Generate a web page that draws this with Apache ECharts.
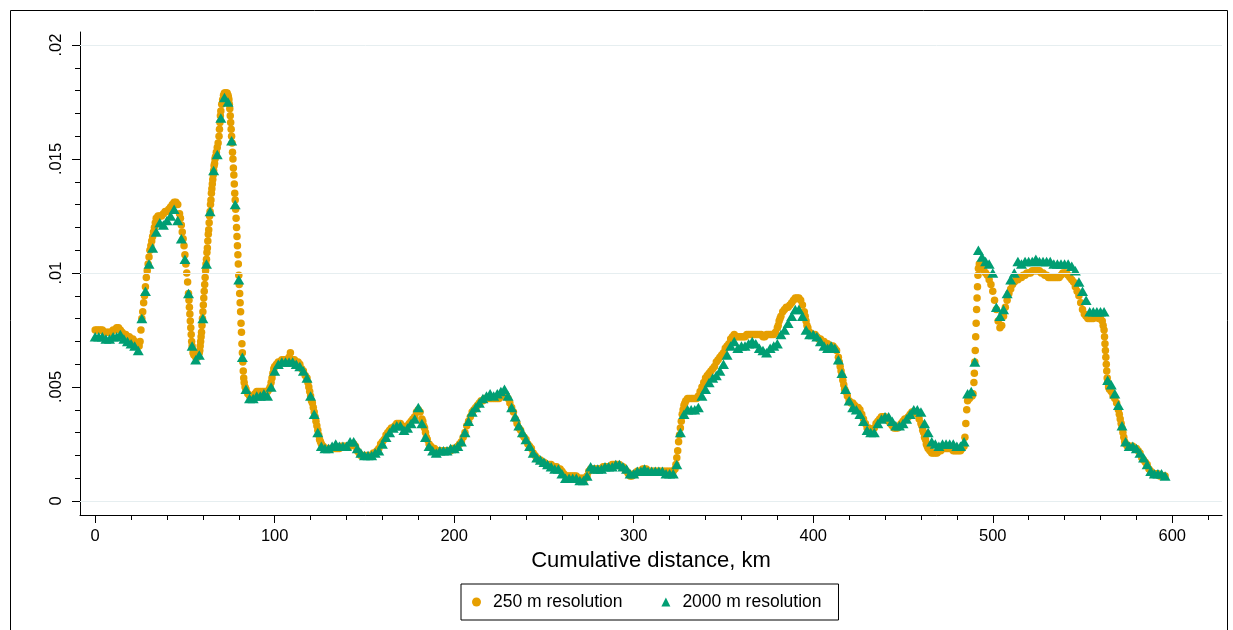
<!DOCTYPE html>
<html>
<head>
<meta charset="utf-8">
<script src="https://cdn.jsdelivr.net/npm/echarts@6/dist/echarts.min.js"></script>
<style>
  html, body { margin: 0; padding: 0; background: #fff; }
  #chart { width: 1233px; height: 630px; }
</style>
</head>
<body>
<div id="chart"></div>
<script>
// Share along the route, 250 m grid: [cumulative km, value]
const res250 = [
  [0,.0075],[1,.0075],[2,.0075],[3,.0075],[4,.0075],[5,.0074],[6,.0074],[7,.0074],[8,.0074],[9,.0074],
  [10,.0075],[11,.0075],[12,.0076],[13,.0076],[14,.0075],[15,.0074],[16,.0073],[17,.0073],[18,.0072],[19,.0072],
  [20,.0071],[21,.0071],[22,.0070],[23,.0069],[24,.0068],[24.5,.0068],
  [25,.0070],[25.5,.0075],[26,.0080],[26.5,.0083],[27,.0087],[27.5,.0090],[28,.0094],[28.5,.0098],[29,.0101],[29.5,.0104],
  [30,.0107],[30.5,.0110],[31,.0112],[31.5,.0114],[32,.0116],[32.5,.0118],[33,.0120],[33.5,.0122],[34,.0124],
  [35,.0125],[36,.0125],[37,.0125],[38,.0126],[39,.0127],[40,.0127],[41,.0128],[42,.0129],[43,.0130],[44,.0131],
  [45,.0131],[46,.0130],[47,.0126],[47.5,.0124],[48,.0121],[48.5,.0118],[49,.0115],[49.5,.0112],[50,.0108],[50.5,.0104],
  [51,.0100],[51.5,.0096],[52,.0091],[52.25,.0088],[52.5,.0085],[52.75,.0082],[53,.0079],[53.25,.0076],[53.5,.0073],[53.75,.0070],
  [54,.0068],[54.5,.0065],[55,.0064],[56,.0063],[57,.0063],[57.5,.0064],
  [58,.0065],[58.25,.0066],[58.5,.0068],[58.75,.0070],[59,.0072],[59.25,.0074],[59.5,.0077],[59.75,.0080],
  [60,.0083],[60.25,.0086],[60.5,.0089],[60.75,.0092],[61,.0095],[61.25,.0098],[61.5,.0101],[61.75,.0104],
  [62,.0106],[62.25,.0109],[62.5,.0111],[62.75,.0114],[63,.0117],[63.25,.0119],[63.5,.0122],[63.75,.0125],
  [64,.0127],[64.25,.0130],[64.5,.0132],[64.75,.0135],[65,.0137],[65.25,.0139],[65.5,.0141],[65.75,.0143],
  [66,.0145],[66.25,.0147],[66.5,.0148],[66.75,.0150],[67,.0151],[67.5,.0153],[68,.0155],[68.5,.0157],
  [69,.0160],[69.25,.0163],[69.5,.0166],[69.75,.0169],[70,.0171],[70.5,.0174],[71,.0176],[71.5,.0178],
  [72,.0179],[72.5,.0179],[73,.0179],[73.5,.0179],[74,.0178],[74.25,.0177],[74.5,.0176],[74.75,.0174],
  [75,.0172],[75.25,.0169],[75.5,.0166],[75.75,.0163],[76,.0160],[76.25,.0157],[76.5,.0153],[76.75,.0150],
  [77,.0146],[77.25,.0143],[77.5,.0139],[77.75,.0135],[78,.0132],[78.25,.0128],[78.5,.0124],[78.75,.0120],
  [79,.0116],[79.25,.0112],[79.5,.0108],[79.75,.0104],[80,.0099],[80.25,.0095],[80.5,.0091],[80.75,.0087],
  [81,.0083],[81.25,.0078],[81.5,.0074],[81.75,.0069],[82,.0065],[82.25,.0061],[82.5,.0057],[82.75,.0054],
  [83,.0052],[83.5,.0050],[84,.0049],[85,.0047],[86,.0046],[87,.0046],[88,.0046],[89,.0047],
  [90,.0048],[91,.0048],[92,.0048],[93,.0048],[94,.0048],[95,.0048],[96,.0048],[97,.0049],[97.5,.0050],
  [98,.0052],[98.5,.0054],[99,.0056],[99.5,.0058],[100,.0059],[101,.0060],[102,.0061],[103,.0061],[104,.0062],
  [105,.0062],[106,.0062],[107,.0062],[108,.0063],[108.75,.0065],[109.5,.0062],[110,.0062],[111,.0062],[112,.0061],
  [113,.0061],[114,.0060],[115,.0058],[116,.0057],[117,.0055],[118,.0054],[118.5,.0052],[119,.0050],[119.5,.0048],
  [120,.0046],[120.5,.0044],[121,.0043],[121.5,.0041],[122,.0039],[122.5,.0037],[123,.0035],[123.5,.0033],
  [124,.0031],[124.5,.0029],[125,.0027],[125.5,.0026],[126,.0025],[127,.0024],[128,.0023],[129,.0023],
  [130,.0023],[131,.0023],[132,.0023],[133,.0023],[134,.0023],[135,.0023],[136,.0023],[137,.0024],[138,.0024],[139,.0024],
  [140,.0024],[141,.0024],[142,.0024],[143,.0025],[144,.0025],[145,.0024],[146,.0022],[147,.0021],[148,.0020],[149,.0020],
  [150,.0020],[151,.0020],[152,.0020],[153,.0020],[154,.0020],[155,.0021],[156,.0021],[157,.0022],[158,.0023],[159,.0025],
  [160,.0026],[161,.0027],[162,.0029],[163,.0030],[164,.0031],[165,.0032],[166,.0032],[167,.0033],[168,.0034],[169,.0034],
  [170,.0034],[171,.0033],[172,.0032],[173,.0032],[174,.0033],[175,.0034],[176,.0035],[177,.0036],[178,.0037],[179,.0039],
  [180,.0040],[181,.0039],[182,.0036],[182.5,.0035],[183,.0033],[183.5,.0032],[184,.0030],[184.5,.0028],[185,.0027],
  [186,.0025],[187,.0024],[188,.0023],[189,.0023],
  [190,.0022],[191,.0022],[192,.0022],[193,.0022],[194,.0022],[195,.0022],[196,.0022],[197,.0022],[198,.0022],[199,.0023],
  [200,.0023],[201,.0023],[202,.0024],[203,.0025],[204,.0026],[205,.0028],[206,.0030],[207,.0033],[208,.0035],[209,.0037],
  [210,.0039],[211,.0040],[212,.0041],[213,.0042],[214,.0043],[215,.0044],[216,.0044],[217,.0045],[218,.0045],[219,.0045],
  [220,.0045],[221,.0045],[222,.0045],[223,.0045],[224,.0045],[225,.0045],[226,.0046],[227,.0046],[228,.0046],[229,.0046],
  [230,.0045],[231,.0043],[232,.0041],[233,.0039],[234,.0036],[235,.0034],[236,.0032],[237,.0031],[238,.0029],[239,.0028],
  [240,.0027],[241,.0025],[242,.0024],[243,.0023],[244,.0021],[245,.0020],[246,.0019],[247,.0018],[248,.0018],[249,.0017],
  [250,.0017],[251,.0016],[252,.0016],[253,.0016],[254,.0016],[255,.0015],[256,.0015],[257,.0015],[258,.0014],[259,.0014],
  [260,.0013],[261,.0012],[262,.0011],[263,.0011],[264,.0011],[265,.0011],[266,.0011],[267,.0011],[268,.0011],[269,.0010],
  [270,.0010],[271,.0010],[272,.0010],[273,.0010],[274,.0011],[275,.0013],[276,.0014],[277,.0014],[278,.0014],[279,.0014],
  [280,.0014],[281,.0014],[282,.0014],[283,.0015],[284,.0015],[285,.0015],[286,.0015],[287,.0015],[288,.0016],[289,.0016],
  [290,.0016],[291,.0016],[292,.0016],[293,.0015],[294,.0015],[295,.0014],[296,.0013],[297,.0012],[298,.0011],[299,.0011],
  [300,.0012],[301,.0012],[302,.0013],[303,.0013],[304,.0013],[305,.0014],[306,.0014],[307,.0014],[308,.0013],[309,.0013],
  [310,.0013],[311,.0013],[312,.0013],[313,.0013],[314,.0013],[315,.0013],[316,.0013],[317,.0013],[318,.0013],[319,.0013],
  [320,.0013],[321,.0013],[322,.0013],[323,.0014],[323.5,.0016],[324,.0019],[324.5,.0022],[325,.0026],[325.5,.0029],
  [326,.0032],[326.5,.0035],[327,.0038],[327.5,.0040],[328,.0042],[328.5,.0043],[329,.0044],
  [330,.0045],[331,.0045],[332,.0045],[333,.0045],[334,.0045],[335,.0045],[336,.0046],[337,.0048],[338,.0050],[339,.0052],
  [340,.0054],[341,.0055],[342,.0056],[343,.0057],[344,.0058],[345,.0059],[346,.0061],[347,.0062],[348,.0063],[349,.0064],
  [350,.0065],[351,.0067],[352,.0068],[353,.0069],[354,.0071],[355,.0072],[356,.0073],[357,.0072],[358,.0072],[359,.0072],
  [360,.0072],[361,.0072],[362,.0072],[363,.0073],[364,.0073],[365,.0073],[366,.0073],[367,.0073],[368,.0073],[369,.0073],
  [370,.0073],[371,.0073],[372,.0072],[373,.0072],[374,.0073],[375,.0073],[376,.0073],[377,.0073],[378,.0073],[379,.0074],
  [380,.0076],[380.5,.0077],[381,.0079],[381.5,.0080],[382,.0081],[383,.0083],[384,.0084],[385,.0085],[386,.0085],[387,.0086],
  [388,.0087],[389,.0088],[390,.0089],[391,.0089],[392,.0089],[393,.0088],[394,.0086],[395,.0083],[395.5,.0081],[396,.0079],
  [396.5,.0077],[397,.0076],[398,.0074],[399,.0073],
  [400,.0073],[401,.0073],[402,.0072],[403,.0071],[404,.0071],[405,.0070],[406,.0070],[407,.0069],[408,.0069],[409,.0068],
  [410,.0068],[411,.0068],[412,.0067],[413,.0066],[414,.0063],[414.5,.0061],[415,.0059],[415.5,.0057],[416,.0055],[416.5,.0053],
  [417,.0051],[417.5,.0049],[418,.0048],[419,.0046],
  [420,.0044],[421,.0043],[422,.0043],[423,.0042],[424,.0041],[425,.0041],[426,.0040],[427,.0038],[428,.0036],[429,.0034],
  [430,.0032],[431,.0032],[432,.0031],[433,.0031],[434,.0032],[435,.0034],[436,.0035],[437,.0036],[438,.0037],[439,.0037],
  [440,.0037],[441,.0036],[442,.0035],[443,.0034],[444,.0033],[445,.0032],[446,.0032],[447,.0032],[448,.0033],[449,.0034],
  [450,.0035],[451,.0036],[452,.0036],[453,.0037],[454,.0038],[455,.0039],[456,.0039],[457,.0039],[458,.0038],[459,.0036],
  [460,.0034],[460.5,.0033],[461,.0031],[461.5,.0030],[462,.0028],[462.5,.0027],[463,.0025],[463.5,.0024],[464,.0023],
  [465,.0022],[466,.0021],[467,.0021],[468,.0021],[469,.0021],
  [470,.0022],[471,.0022],[472,.0023],[473,.0023],[474,.0023],[475,.0023],[476,.0023],[477,.0023],[478,.0022],[479,.0022],
  [480,.0022],[481,.0022],[482,.0022],[483,.0023],[484,.0024],[484.5,.0028],[485,.0034],[485.5,.0040],[486,.0044],
  [487,.0045],[488,.0046],[488.5,.0046],[489,.0047],[489.5,.0052],[489.75,.0056],
  [490,.0061],[490.25,.0066],[490.5,.0072],[490.75,.0078],[491,.0084],[491.25,.0089],[491.5,.0094],[491.75,.0099],
  [492,.0102],[492.5,.0104],[493,.0104],[494,.0103],[495,.0101],[496,.0100],[497,.0099],[498,.0097],[499,.0095],
  [500,.0092],[501,.0088],[502,.0084],[503,.0079],[504,.0076],[505,.0077],[506,.0081],[507,.0085],[508,.0088],[509,.0091],
  [510,.0093],[511,.0095],[512,.0096],[513,.0097],[514,.0097],[515,.0098],[516,.0098],[517,.0099],[518,.0099],[519,.0100],
  [520,.0100],[521,.0100],[522,.0101],[523,.0101],[524,.0101],[525,.0101],[526,.0101],[527,.0100],[528,.0100],[529,.0099],
  [530,.0099],[531,.0098],[532,.0098],[533,.0098],[534,.0098],[535,.0098],[536,.0098],[537,.0098],[538,.0099],[539,.0100],
  [540,.0100],[541,.0100],[542,.0099],[543,.0098],[544,.0097],[545,.0096],[546,.0094],[547,.0092],[548,.0090],[549,.0087],
  [550,.0084],[551,.0082],[552,.0081],[553,.0080],[554,.0080],[555,.0080],[556,.0080],[557,.0081],[558,.0081],[559,.0080],
  [560,.0080],[561,.0079],[561.5,.0077],[562,.0075],[562.25,.0072],[562.5,.0069],[562.75,.0066],[563,.0063],[563.25,.0060],
  [563.5,.0057],[563.75,.0054],[564,.0052],[564.5,.0050],[565,.0049],[566,.0048],[567,.0046],[568,.0045],[569,.0043],
  [570,.0040],[570.5,.0038],[571,.0036],[571.5,.0034],[572,.0032],[572.5,.0030],[573,.0028],[573.5,.0026],[574,.0025],
  [575,.0024],[576,.0024],[577,.0024],[578,.0024],[579,.0023],
  [580,.0023],[581,.0022],[582,.0021],[583,.0019],[584,.0018],[585,.0017],[586,.0016],[587,.0014],[588,.0013],[589,.0012],
  [590,.0012],[591,.0012],[592,.0012],[593,.0011],[594,.0011],[595,.0011],[596,.0011]
];

// Same route, 2000 m grid: [cumulative km, value]
const res2000 = [
  [0,.0072],[2,.0072],[4,.0072],[6,.0071],[8,.0071],[10,.0072],[12,.0072],[14,.0073],[16,.0071],[18,.0070],
  [20,.0069],[22,.0068],[24,.0066],[26,.0080],[28,.0092],[30,.0104],[32,.0111],[34,.0118],[36,.0122],[38,.0121],
  [40,.0123],[42,.0125],[44,.0128],[46,.0123],[48,.0115],[50,.0106],[52,.0091],[54,.0068],[56,.0062],[58,.0064],
  [60,.0080],[62,.0104],[64,.0127],[66,.0145],[68,.0152],[70,.0168],[72,.0177],[74,.0175],[76,.0158],[78,.0130],
  [80,.0097],[82,.0063],[84,.0049],[86,.0045],[88,.0045],[90,.0046],[92,.0046],[94,.0047],[96,.0046],[98,.0050],
  [100,.0057],[102,.0060],[104,.0061],[106,.0061],[108,.0061],[110,.0061],[112,.0060],[114,.0059],[116,.0057],[118,.0054],
  [120,.0046],[122,.0038],[124,.0030],[126,.0024],[128,.0023],[130,.0023],[132,.0024],[134,.0025],[136,.0024],[138,.0024],
  [140,.0024],[142,.0026],[144,.0026],[146,.0023],[148,.0021],[150,.0020],[152,.0020],[154,.0020],[156,.0021],[158,.0022],
  [160,.0025],[162,.0028],[164,.0030],[166,.0032],[168,.0033],[170,.0033],[172,.0031],[174,.0032],[176,.0034],[178,.0036],
  [180,.0041],[182,.0034],[184,.0028],[186,.0024],[188,.0022],[190,.0021],[192,.0022],[194,.0022],[196,.0022],[198,.0023],
  [200,.0023],[202,.0024],[204,.0026],[206,.0030],[208,.0035],[210,.0039],[212,.0041],[214,.0043],[216,.0045],[218,.0046],
  [220,.0047],[222,.0046],[224,.0047],[226,.0048],[228,.0049],[230,.0046],[232,.0041],[234,.0037],[236,.0033],[238,.0030],
  [240,.0027],[242,.0024],[244,.0021],[246,.0019],[248,.0018],[250,.0017],[252,.0016],[254,.0015],[256,.0014],[258,.0014],
  [260,.0012],[262,.0010],[264,.0010],[266,.0010],[268,.0010],[270,.0009],[272,.0009],[274,.0011],[276,.0015],[278,.0014],
  [280,.0014],[282,.0014],[284,.0015],[286,.0015],[288,.0015],[290,.0016],[292,.0016],[294,.0015],[296,.0014],[298,.0012],
  [300,.0012],[302,.0013],[304,.0013],[306,.0014],[308,.0013],[310,.0013],[312,.0013],[314,.0013],[316,.0013],[318,.0012],
  [320,.0012],[322,.0012],[324,.0016],[326,.0030],[328,.0038],[330,.0040],[332,.0040],[334,.0040],[336,.0041],[338,.0046],
  [340,.0049],[342,.0052],[344,.0054],[346,.0055],[348,.0057],[350,.0060],[352,.0064],[354,.0068],[356,.0070],[358,.0067],
  [360,.0068],[362,.0068],[364,.0069],[366,.0070],[368,.0069],[370,.0067],[372,.0066],[374,.0065],[376,.0067],[378,.0068],
  [380,.0069],[382,.0073],[384,.0075],[386,.0078],[388,.0081],[390,.0084],[392,.0084],[394,.0081],[396,.0075],[398,.0073],
  [400,.0073],[402,.0072],[404,.0070],[406,.0068],[408,.0067],[410,.0068],[412,.0067],[414,.0062],[416,.0056],[418,.0049],
  [420,.0044],[422,.0041],[424,.0040],[426,.0038],[428,.0035],[430,.0031],[432,.0030],[434,.0030],[436,.0034],[438,.0036],
  [440,.0037],[442,.0037],[444,.0035],[446,.0033],[448,.0033],[450,.0034],[452,.0036],[454,.0038],[456,.0040],[458,.0040],
  [460,.0039],[462,.0034],[464,.0030],[466,.0026],[468,.0025],[470,.0024],[472,.0025],[474,.0025],[476,.0025],[478,.0025],
  [480,.0024],[482,.0024],[484,.0026],[486,.0047],[488,.0048],[490,.0061],[492,.0110],[494,.0107],[496,.0105],[498,.0104],
  [500,.0100],[502,.0085],[504,.0081],[506,.0084],[508,.0091],[510,.0097],[512,.0100],[514,.0105],[516,.0104],[518,.0105],
  [520,.0105],[522,.0105],[524,.0106],[526,.0105],[528,.0105],[530,.0105],[532,.0105],[534,.0104],[536,.0104],[538,.0104],
  [540,.0104],[542,.0104],[544,.0103],[546,.0101],[548,.0096],[550,.0092],[552,.0088],[554,.0083],[556,.0083],[558,.0083],
  [560,.0083],[562,.0083],[564,.0053],[566,.0051],[568,.0047],[570,.0042],[572,.0033],[574,.0026],[576,.0024],[578,.0024],
  [580,.0023],[582,.0021],[584,.0019],[586,.0016],[588,.0013],[590,.0012],[592,.0012],[594,.0012],[596,.0011]
];

const seriesNames = ['250 m resolution', '2000 m resolution'];
const xMajorTicks = [0, 100, 200, 300, 400, 500, 600];
const xMinorTicks = [0, 20, 40, 60, 80, 100, 120, 140, 160, 180, 200, 220, 240, 260, 280, 300,
                     320, 340, 360, 380, 400, 420, 440, 460, 480, 500, 520, 540, 560, 580, 600, 620];
const yMajorTicks = [0, 0.005, 0.01, 0.015, 0.02];
const yMinorTicks = [0, 0.001, 0.002, 0.003, 0.004, 0.005, 0.006, 0.007, 0.008, 0.009, 0.01,
                     0.011, 0.012, 0.013, 0.014, 0.015, 0.016, 0.017, 0.018, 0.019, 0.02];
const xTitle = 'Cumulative distance, km';

const FONT = '"Liberation Sans", Arial, Helvetica, sans-serif';
const ORANGE = '#E69F00';
const GREEN = '#009E73';

// axis extents: the axis lines run a little past the data on both ends
const X_MIN = -8.45, X_MAX = 627.7;
const Y_MIN = -0.000614, Y_MAX = 0.02057;

const chart = echarts.init(document.getElementById('chart'), null, { renderer: 'canvas' });

const fmtY = v => (v === 0 ? '0' : String(v).replace(/^0\./, '.'));

const baseX = {
  type: 'value', min: X_MIN, max: X_MAX, position: 'bottom',
  splitLine: { show: false }, minorTick: { show: false }, minorSplitLine: { show: false }
};
const baseY = {
  type: 'value', min: Y_MIN, max: Y_MAX, position: 'left',
  splitLine: { show: false }, minorTick: { show: false }, minorSplitLine: { show: false }
};

chart.setOption({
  animation: false,
  backgroundColor: '#ffffff',
  textStyle: { fontFamily: FONT },
  graphic: [{
    type: 'rect', silent: true, z: 0,
    shape: { x: 10.5, y: 10.5, width: 1217, height: 700 },
    style: { fill: 'none', stroke: '#000', lineWidth: 1 }
  }],
  grid: { left: 80, right: 11, top: 32, bottom: 115, containLabel: false, outerBoundsMode: 'none' },
  xAxis: [
    Object.assign({}, baseX, {
      axisLine: { show: true, onZero: false, lineStyle: { color: '#000', width: 1 } },
      axisTick: { show: true, customValues: xMajorTicks, length: 8, lineStyle: { color: '#000', width: 1 } },
      axisLabel: { show: true, customValues: xMajorTicks, margin: 13, color: '#000', fontSize: 16.5, fontFamily: FONT },
      name: xTitle, nameLocation: 'middle', nameGap: 32,
      nameTextStyle: { color: '#000', fontSize: 22, fontFamily: FONT }
    }),
    Object.assign({}, baseX, {
      axisLine: { show: false, onZero: false },
      axisTick: { show: true, customValues: xMinorTicks, length: 5, lineStyle: { color: '#000', width: 1 } },
      axisLabel: { show: false }
    })
  ],
  yAxis: [
    Object.assign({}, baseY, {
      axisLine: { show: true, onZero: false, lineStyle: { color: '#000', width: 1 } },
      axisTick: { show: true, customValues: yMajorTicks, length: 8, lineStyle: { color: '#000', width: 1 } },
      axisLabel: { show: true, customValues: yMajorTicks, rotate: 90, margin: 15, color: '#000',
                   fontSize: 16.5, fontFamily: FONT, formatter: fmtY }
    }),
    Object.assign({}, baseY, {
      axisLine: { show: false, onZero: false },
      axisTick: { show: true, customValues: yMinorTicks, length: 5, lineStyle: { color: '#000', width: 1 } },
      axisLabel: { show: false }
    })
  ],
  legend: {
    left: 461, top: 584,
    orient: 'horizontal',
    itemWidth: 9, itemHeight: 9, itemGap: 39,
    padding: [9, 17, 9, 11],
    borderColor: '#000', borderWidth: 1, borderRadius: 0,
    backgroundColor: '#fff',
    textStyle: { color: '#000', fontSize: 17.5, fontFamily: FONT, padding: [0, 0, 0, 7] },
    data: seriesNames
  },
  series: [
    {
      // horizontal gridlines at the labelled y values
      type: 'scatter', data: [], xAxisIndex: 0, yAxisIndex: 0, z: 1, silent: true,
      markLine: {
        silent: true, symbol: 'none', label: { show: false },
        lineStyle: { color: '#e6eef0', width: 1, type: 'solid' },
        data: yMajorTicks.map(v => ({ yAxis: v }))
      }
    },
    {
      name: seriesNames[0], type: 'scatter', data: res250,
      xAxisIndex: 0, yAxisIndex: 0, z: 3,
      symbol: 'circle', symbolSize: 7.5,
      itemStyle: { color: ORANGE, opacity: 1 },
      emphasis: { disabled: true }
    },
    {
      name: seriesNames[1], type: 'scatter', data: res2000,
      xAxisIndex: 0, yAxisIndex: 0, z: 4,
      symbol: 'triangle', symbolSize: [11, 9.5],
      itemStyle: { color: GREEN, opacity: 1 },
      emphasis: { disabled: true }
    }
  ]
});
</script>
</body>
</html>
